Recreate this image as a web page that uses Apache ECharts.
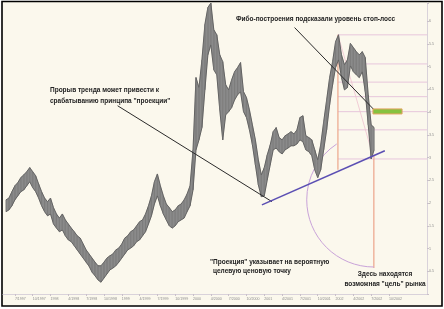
<!DOCTYPE html>
<html><head><meta charset="utf-8">
<script src="https://cdn.jsdelivr.net/npm/echarts@6/dist/echarts.min.js"></script>
<style>html,body{margin:0;padding:0;background:#fff}#c{width:444px;height:309px}</style>
</head><body><div id="c"></div>
<script>
// Time is measured in months since January 1997; one sample every half month
const startMonth = 4.5;
const stepMonths = 0.5;
const hi = [
 2.07,2.11,2.25,2.38,2.45,2.56,2.62,2.69,2.78,2.69,
 2.60,2.42,2.25,2.11,2.03,2.11,1.90,1.76,1.67,1.76,
 1.63,1.54,1.45,1.37,1.28,1.23,1.10,0.97,0.88,0.79,
 0.70,0.62,0.62,0.70,0.79,0.84,0.88,0.97,1.01,1.10,
 1.23,1.28,1.37,1.41,1.50,1.59,1.63,1.76,1.94,2.16,
 2.47,2.64,2.38,2.16,1.98,1.90,1.81,1.85,1.94,1.98,
 2.07,2.20,2.38,3.17,4.76,4.54,5.15,5.93,6.30,6.40,
 5.81,5.70,5.26,5.11,4.60,4.49,4.71,4.89,4.98,5.09,
 4.45,4.32,4.05,3.72,3.39,2.95,2.62,2.78,3.06,3.28,
 3.57,3.66,3.44,3.39,3.48,3.52,3.57,3.52,3.61,3.88,
 3.92,3.48,3.44,3.39,3.17,2.95,3.28,3.79,4.27,4.76,
 5.11,5.55,5.70,5.26,5.04,5.15,5.51,5.42,5.33,5.26,
 5.33,5.20,4.38,3.72,3.66
];
const lo = [
 1.81,1.85,1.94,2.07,2.16,2.25,2.29,2.38,2.47,2.34,
 2.25,2.11,1.94,1.81,1.72,1.76,1.54,1.45,1.37,1.41,
 1.28,1.19,1.15,1.06,0.97,0.88,0.79,0.70,0.61,0.48,
 0.40,0.31,0.26,0.35,0.44,0.53,0.57,0.62,0.70,0.79,
 0.88,0.97,1.01,1.06,1.15,1.19,1.28,1.37,1.54,1.72,
 1.98,2.16,1.94,1.76,1.63,1.50,1.45,1.50,1.59,1.63,
 1.67,1.81,1.94,2.29,3.17,3.39,3.66,4.49,5.26,5.48,
 4.93,4.82,4.05,3.39,3.94,4.01,4.10,4.27,4.38,4.45,
 4.01,3.88,3.61,3.28,2.84,2.40,2.14,2.16,2.51,2.84,
 3.17,3.21,3.13,3.08,3.17,3.21,3.26,3.26,3.30,3.39,
 3.35,3.17,3.13,3.04,2.73,2.56,2.73,3.17,3.61,4.16,
 4.60,4.98,5.15,4.76,4.49,4.54,5.02,4.89,4.82,4.76,
 4.89,4.45,3.72,2.97,3.17
];
const tickMonths = [6,9,12,15,18,21,24,27,30,33,36,39,42,45,48,51,54,57,60,63,66,69];
const tickLabels = ['7/1997','10/1997','1998','4/1998','7/1998','10/1998','1999','4/1999','7/1999','10/1999',
 '2000','4/2000','7/2000','10/2000','2001','4/2001','7/2001','10/2001','2002','4/2002','7/2002','10/2002'];

// Fibonacci construction (month, value)
const fibHigh = [60.4, 5.70];
const fibLow = [66.45, 2.97];
const fibLevels = [5.70, 5.06, 4.66, 4.34, 4.01, 3.61, 2.97];
const fibVerticalBottom = 2.73;
const targetVertical = [3.06, 0.57];
const stopBox = [[66.3, 4.07], [71.2, 3.96]];
const stopPointer = [[53.1, 5.86], [66.5, 4.05]];
const breakPointer = [[23.3, 4.14], [49.3, 2.03]];
const supportLine = [[47.6, 1.96], [68.3, 3.15]];
const arcCenter = [66.45, 2.07];
const arcStart = [60.2, 3.30];

const X_MIN = 4, X_MAX = 75.4;

const priceData = hi.map((h, i) => [startMonth + i * stepMonths, h, lo[i]]);

const chart = echarts.init(document.getElementById('c'), null, {renderer: 'canvas'});

const FONT = 'bold 6.5px "Liberation Sans", Arial, sans-serif';
function txt(t, x, y, align) {
  return {type: 'text', z: 50, style: {text: t, x: x, y: y, font: FONT, fill: '#222',
    textAlign: align || 'left', align: align || 'left', textVerticalAlign: 'middle', verticalAlign: 'middle'}};
}

chart.setOption({
  backgroundColor: '#ffffff',
  animation: false,
  grid: {left: 3, right: 17, top: 3, bottom: 15},
  xAxis: {
    type: 'value', min: X_MIN, max: X_MAX,
    axisLine: {show: true, lineStyle: {color: '#d9d2da', width: 1}},
    axisTick: {show: true, customValues: tickMonths, length: 2, lineStyle: {color: '#c9c0c9'}},
    axisLabel: {show: true, customValues: tickMonths, fontSize: 3.6, color: '#8c8c8c', margin: 3, align: 'left',
      formatter: v => { const k = tickMonths.indexOf(Math.round(v)); return k >= 0 ? tickLabels[k] : ''; }},
    splitLine: {show: false}
  },
  yAxis: {
    type: 'value', position: 'right', min: 0, max: 6.4, interval: 0.5,
    axisLine: {show: true, lineStyle: {color: '#d9d2da', width: 1}},
    axisTick: {show: true, length: 2, lineStyle: {color: '#c9c0c9'}},
    axisLabel: {fontSize: 3.6, color: '#8c8c8c', margin: 2,
      formatter: v => (v > 0 && Math.abs(v * 2 - Math.round(v * 2)) < 1e-6) ? String(v) : ''},
    splitLine: {show: false}
  },
  graphic: [
    {type: 'rect', z: -100, shape: {x: 2, y: 1.5, width: 440, height: 304.5},
     style: {fill: '#fbf8ed', stroke: '#000', lineWidth: 1.6}},
    txt('Фибо-построения подсказали уровень стоп-лосс', 236, 19),
    txt('Прорыв тренда может привести к', 50, 90),
    txt('срабатыванию принципа "проекции"', 50, 101),
    txt('"Проекция" указывает на вероятную', 210, 262),
    txt('целевую ценовую точку', 213, 271),
    txt('Здесь находятся', 385, 274, 'center'),
    txt('возможная "цель" рынка', 385, 284, 'center')
  ],
  series: [
    {
      type: 'custom', name: 'annotations-back', z: 3, silent: true,
      data: [[X_MIN, 0]],
      renderItem: (params, api) => {
        const c = p => api.coord(p);
        const children = [];
        const right = c([X_MAX, 0])[0];
        fibLevels.forEach(l => {
          const a = c([fibHigh[0], l]);
          children.push({type: 'line', shape: {x1: a[0], y1: a[1], x2: right, y2: a[1]},
            style: {stroke: '#e7c6dc', lineWidth: 1}});
        });
        const vh = c(fibHigh), vb = c([fibHigh[0], fibVerticalBottom]);
        children.push({type: 'line', shape: {x1: vh[0], y1: vh[1], x2: vb[0], y2: vb[1]},
          style: {stroke: '#eca58a', lineWidth: 1.2}});
        const t1 = c([fibLow[0], targetVertical[0]]), t2 = c([fibLow[0], targetVertical[1]]);
        children.push({type: 'line', shape: {x1: t1[0], y1: t1[1], x2: t2[0], y2: t2[1]},
          style: {stroke: '#eca58a', lineWidth: 1.2}});
        const fl = c(fibLow);
        children.push({type: 'line', shape: {x1: vh[0], y1: vh[1], x2: fl[0], y2: fl[1]},
          style: {stroke: '#efc2cf', lineWidth: 0.8}});
        const cc = c(arcCenter), cs = c(arcStart);
        const dx = cs[0] - cc[0], dy = cs[1] - cc[1];
        const r = Math.sqrt(dx * dx + dy * dy);
        let ang = Math.atan2(dy, dx); if (ang < 0) ang += Math.PI * 2;
        children.push({type: 'arc', shape: {cx: cc[0], cy: cc[1], r: r, startAngle: Math.PI / 2, endAngle: ang, clockwise: true},
          style: {stroke: '#c9a3d9', lineWidth: 1, fill: null}});
        return {type: 'group', children: children};
      }
    },
    {
      type: 'custom', name: 'price', z: 5, silent: true,
      data: priceData,
      encode: {x: 0, y: [1, 2]},
      renderItem: (params, api) => {
        const i = params.dataIndex;
        const x = api.value(0);
        const a = api.coord([x, api.value(1)]);
        const b = api.coord([x, api.value(2)]);
        const children = [];
        if (i + 1 < priceData.length) {
          const n = priceData[i + 1];
          const a2 = api.coord([n[0], n[1]]);
          const b2 = api.coord([n[0], n[2]]);
          children.push({type: 'polygon', shape: {points: [a, a2, b2, b]},
            style: {fill: '#8a8a8a', stroke: '#8a8a8a', lineWidth: 0.4}});
          children.push({type: 'line', shape: {x1: a[0], y1: a[1], x2: a2[0], y2: a2[1]},
            style: {stroke: '#5a5a5a', lineWidth: 0.9}});
          children.push({type: 'line', shape: {x1: b[0], y1: b[1], x2: b2[0], y2: b2[1]},
            style: {stroke: '#5a5a5a', lineWidth: 0.9}});
        }
        children.push({type: 'line', shape: {x1: a[0], y1: a[1], x2: b[0], y2: b[1]},
          style: {stroke: '#6a6a6a', lineWidth: 0.6}});
        return {type: 'group', children: children};
      }
    },
    {
      type: 'custom', name: 'annotations-front', z: 8, silent: true,
      data: [[X_MIN, 0]],
      renderItem: (params, api) => {
        const c = p => api.coord(p);
        const children = [];
        const s1 = c(stopPointer[0]), s2 = c(stopPointer[1]);
        children.push({type: 'line', shape: {x1: s1[0], y1: s1[1], x2: s2[0], y2: s2[1]},
          style: {stroke: '#2a2a2a', lineWidth: 1}});
        const b1 = c(breakPointer[0]), b2 = c(breakPointer[1]);
        children.push({type: 'line', shape: {x1: b1[0], y1: b1[1], x2: b2[0], y2: b2[1]},
          style: {stroke: '#2a2a2a', lineWidth: 1}});
        const p1 = c(supportLine[0]), p2 = c(supportLine[1]);
        children.push({type: 'line', shape: {x1: p1[0], y1: p1[1], x2: p2[0], y2: p2[1]},
          style: {stroke: '#5b4fb3', lineWidth: 1.6}});
        const r1 = c(stopBox[0]), r2 = c(stopBox[1]);
        children.push({type: 'rect', shape: {x: r1[0], y: r1[1], width: r2[0] - r1[0], height: r2[1] - r1[1]},
          style: {fill: '#86c23f', stroke: '#e3a35f', lineWidth: 1}});
        return {type: 'group', children: children};
      }
    }
  ]
});
</script></body></html>
